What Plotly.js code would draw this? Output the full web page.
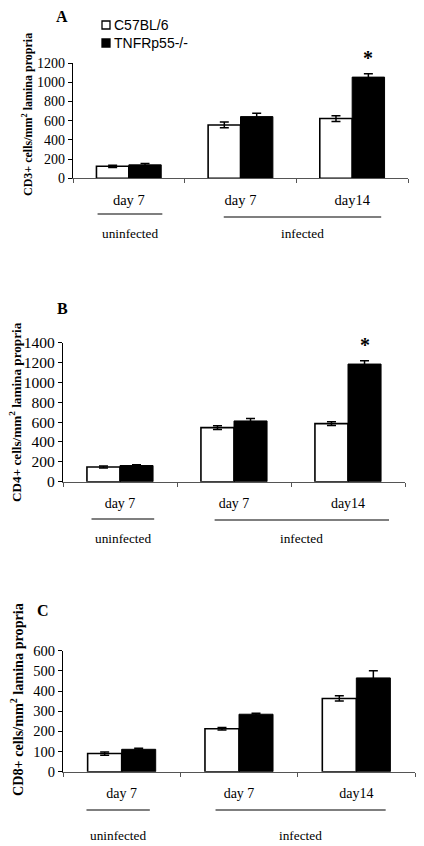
<!DOCTYPE html>
<html>
<head>
<meta charset="utf-8">
<script src="https://cdn.plot.ly/plotly-3.0.1.min.js"></script>
<style>html,body{margin:0;padding:0;background:#fff;}#chart{width:424px;height:846px;}</style>
</head>
<body>
<div id="chart"></div>
<script>
// ---- data ----
var categories = ["uninfected day 7", "infected day 7", "infected day 14"];
var tickLabels = ["day 7", "day 7", "day14"];
var seriesNames = ["C57BL/6", "TNFRp55-/-"];
var groupLabels = ["uninfected", "infected"];
var panelLetters = ["A", "B", "C"];
var yTitles = ["CD3+ cells/mm<sup>2</sup> lamina propria",
               "CD4+ cells/mm<sup>2</sup> lamina propria",
               "CD8+ cells/mm<sup>2</sup> lamina propria"];

var cd3_wt = [125, 555, 622];
var cd3_wt_err = [12, 30, 30];
var cd3_ko = [140, 642, 1053];
var cd3_ko_err = [15, 35, 35];

var cd4_wt = [148, 545, 585];
var cd4_wt_err = [10, 18, 18];
var cd4_ko = [163, 612, 1185];
var cd4_ko_err = [8, 25, 34];

var cd8_wt = [90, 213, 363];
var cd8_wt_err = [8, 6, 13];
var cd8_ko = [111, 285, 465];
var cd8_ko_err = [5, 5, 35];

var yMax = [1200, 1400, 600];
var yStep = [200, 200, 100];
var significant = [[false, false, true], [false, false, true], [false, false, false]];

// ---- layout helpers ----
var W = 424, H = 846;
function px(x) { return x / W; }
function py(y) { return 1 - y / H; }

var serif = "Liberation Serif, Times New Roman, serif";
var sans = "Liberation Sans, Arial, sans-serif";
var bargap = 0.42;

// panel geometry in pixels: [left, right, top, bottom]
var boxes = [[73, 408, 63, 178.3], [63, 405, 342.7, 481.7], [63, 415, 650.7, 771.7]];
var titleX = [27, 15, 17];
var titleY = [115, 412, 700];
var titleSize = [12, 13.2, 14.2];
var yTickSize = [14, 15.5, 14.5];
var xTickSize = [14.5, 14, 14];
var letterPos = [[62, 17], [62, 308], [43, 610]];
var uninfLine = [[-0.28, 0.3], [-0.25, 0.3], [-0.3, 0.24]];
var infLine = [[0.85, 2.26], [0.83, 2.36], [0.8, 2.25]];
var lineY = [[214, 217], [519, 520], [810, 810]];
var groupTextY = [233, 538, 835];

var wtVals = [cd3_wt, cd4_wt, cd8_wt];
var wtErr = [cd3_wt_err, cd4_wt_err, cd8_wt_err];
var koVals = [cd3_ko, cd4_ko, cd8_ko];
var koErr = [cd3_ko_err, cd4_ko_err, cd8_ko_err];

var data = [];
var layout = {
  width: W, height: H,
  margin: {l: 0, r: 0, t: 0, b: 0},
  paper_bgcolor: "#fff", plot_bgcolor: "rgba(0,0,0,0)",
  showlegend: false,
  barmode: "group", bargap: bargap, bargroupgap: 0,
  annotations: [], shapes: []
};

for (var p = 0; p < 3; p++) {
  var sfx = p === 0 ? "" : String(p + 1);
  var xa = "x" + sfx, ya = "y" + sfx;
  data.push({
    type: "bar", name: seriesNames[0], x: categories, y: wtVals[p],
    xaxis: xa, yaxis: ya,
    marker: {color: "#ffffff", line: {color: "#000", width: 1.6}},
    error_y: {type: "data", array: wtErr[p], visible: true, color: "#000", thickness: 1.5, width: 4.5}
  });
  data.push({
    type: "bar", name: seriesNames[1], x: categories, y: koVals[p],
    xaxis: xa, yaxis: ya,
    marker: {color: "#000000", line: {color: "#000", width: 1}},
    error_y: {type: "data", array: koErr[p], visible: true, color: "#000", thickness: 1.5, width: 4.5}
  });
  var b = boxes[p];
  layout["xaxis" + sfx] = {
    domain: [px(b[0]), px(b[1])], anchor: ya,
    type: "category", categoryorder: "array", categoryarray: categories,
    tickvals: categories, ticktext: tickLabels, tickson: "boundaries",
    ticks: "outside", ticklen: 4, tickwidth: 1, tickcolor: "#555",
    showline: true, linecolor: "#555", linewidth: 1,
    showgrid: false, zeroline: false, fixedrange: true,
    ticklabelstandoff: 8,
    tickfont: {family: serif, size: xTickSize[p], color: "#000"}
  };
  layout["yaxis" + sfx] = {
    domain: [py(b[3]), py(b[2])], anchor: xa,
    range: [0, yMax[p]], dtick: yStep[p], tick0: 0,
    ticks: "outside", ticklen: 4, tickwidth: 1, tickcolor: "#000",
    showline: true, linecolor: "#000", linewidth: 1.2,
    showgrid: false, zeroline: false, fixedrange: true,
    tickfont: {family: serif, size: yTickSize[p], color: "#000"}
  };
  // y-axis title
  layout.annotations.push({
    xref: "paper", yref: "paper", x: px(titleX[p]), y: py(titleY[p]),
    text: "<b>" + yTitles[p] + "</b>", textangle: -90, showarrow: false,
    xanchor: "center", yanchor: "middle",
    font: {family: serif, size: titleSize[p], color: "#000"}
  });
  // panel letter
  layout.annotations.push({
    xref: "paper", yref: "paper", x: px(letterPos[p][0]), y: py(letterPos[p][1]),
    text: "<b>" + panelLetters[p] + "</b>", showarrow: false,
    xanchor: "center", yanchor: "middle",
    font: {family: serif, size: 16, color: "#000"}
  });
  // group lines and labels
  layout.shapes.push({type: "line", xref: xa, yref: "paper",
    x0: uninfLine[p][0], x1: uninfLine[p][1], y0: py(lineY[p][0]), y1: py(lineY[p][0]),
    line: {color: "#000", width: 1.2}});
  layout.shapes.push({type: "line", xref: xa, yref: "paper",
    x0: infLine[p][0], x1: infLine[p][1], y0: py(lineY[p][1]), y1: py(lineY[p][1]),
    line: {color: "#000", width: 1.2}});
  layout.annotations.push({xref: xa, yref: "paper",
    x: (uninfLine[p][0] + uninfLine[p][1]) / 2, y: py(groupTextY[p]),
    text: groupLabels[0], showarrow: false, xanchor: "center", yanchor: "middle",
    font: {family: serif, size: 13.3, color: "#000"}});
  layout.annotations.push({xref: xa, yref: "paper",
    x: (infLine[p][0] + infLine[p][1]) / 2, y: py(groupTextY[p]),
    text: groupLabels[1], showarrow: false, xanchor: "center", yanchor: "middle",
    font: {family: serif, size: 13.3, color: "#000"}});
  // significance asterisks above the knockout bars
  var barOffset = (1 - bargap) / 4;
  for (var i = 0; i < categories.length; i++) {
    if (significant[p][i]) {
      layout.annotations.push({xref: xa, yref: ya,
        x: i + barOffset, y: koVals[p][i] + koErr[p][i],
        text: "<b>*</b>", showarrow: false, xanchor: "center", yanchor: "bottom",
        yshift: 3, font: {family: serif, size: 20, color: "#000"}});
    }
  }
}

// custom legend (panel A)
var legendRows = [25, 43];
var legendFill = ["#ffffff", "#000000"];
for (var k = 0; k < seriesNames.length; k++) {
  layout.shapes.push({type: "rect", xref: "paper", yref: "paper",
    x0: px(102), x1: px(110), y0: py(legendRows[k] - 4), y1: py(legendRows[k] + 4),
    fillcolor: legendFill[k], line: {color: "#000", width: 1.3}});
  layout.annotations.push({xref: "paper", yref: "paper",
    x: px(111.5), y: py(legendRows[k]), text: seriesNames[k], showarrow: false,
    xanchor: "left", yanchor: "middle",
    font: {family: sans, size: 14, color: "#000"}});
}

Plotly.newPlot("chart", data, layout, {displayModeBar: false, staticPlot: true});
</script>
</body>
</html>
